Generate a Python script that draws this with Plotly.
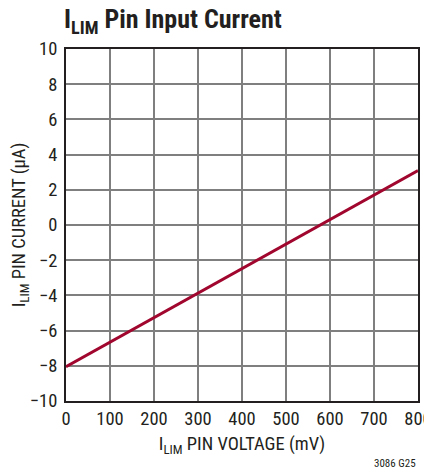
import plotly.graph_objects as go

voltage_mv = [0, 800]
current_ua = [-8.05, 3.1]
x_ticks = [0, 100, 200, 300, 400, 500, 600, 700, 800]
y_ticks = [-10, -8, -6, -4, -2, 0, 2, 4, 6, 8, 10]
y_tick_text = ["\u221210", "\u22128", "\u22126", "\u22124", "\u22122", "0", "2", "4", "6", "8", "10"]

FONT = "Roboto Condensed, Liberation Sans Narrow, Arial Narrow, sans-serif"
INK = "#231F20"

# page body has an 8px margin, so the figure is drawn 8px smaller and offset
W, H = 424, 464

fig = go.Figure()
fig.add_trace(go.Scatter(x=voltage_mv, y=current_ua, mode="lines",
                         line=dict(color="#A0062E", width=3), showlegend=False,
                         hoverinfo="skip"))

fig.update_layout(
    width=W, height=H,
    margin=dict(l=58, r=14, t=41, b=71, autoexpand=False),
    paper_bgcolor="white", plot_bgcolor="white",
    font=dict(family=FONT, color=INK, size=18.5),
    title=dict(text="<b>I<sub>LIM</sub> Pin Input Current</b>",
               xref="container", x=56 / W, xanchor="left",
               yref="container", y=1 - 2 / H, yanchor="top",
               font=dict(family=FONT, size=26, color=INK)),
    xaxis=dict(range=[0, 800], tickvals=x_ticks, ticks="", showgrid=True,
               gridcolor="#7f7f7f", gridwidth=1.5, zeroline=False,
               showline=True, linecolor=INK, linewidth=2, mirror=True,
               tickfont=dict(size=18.5), automargin=False,
               title=dict(text="I<sub>LIM</sub> PIN VOLTAGE (mV)", font=dict(size=18.5), standoff=8)),
    yaxis=dict(range=[-10, 10], tickvals=y_ticks, ticktext=y_tick_text, ticks="",
               showgrid=True, gridcolor="#7f7f7f", gridwidth=1.5, zeroline=False,
               showline=True, linecolor=INK, linewidth=2, mirror=True,
               tickfont=dict(size=18.5), automargin=False, ticklabelstandoff=3,
               title=dict(text="I<sub>LIM</sub> PIN CURRENT (\u03bcA)", font=dict(size=18.5), standoff=6)),
)

fig.add_annotation(text="3086 G25", xref="paper", yref="paper", x=1.0, y=-0.178,
                   xanchor="right", yanchor="middle", showarrow=False,
                   font=dict(family=FONT, size=11, color=INK))

fig.write_html("out.html")
